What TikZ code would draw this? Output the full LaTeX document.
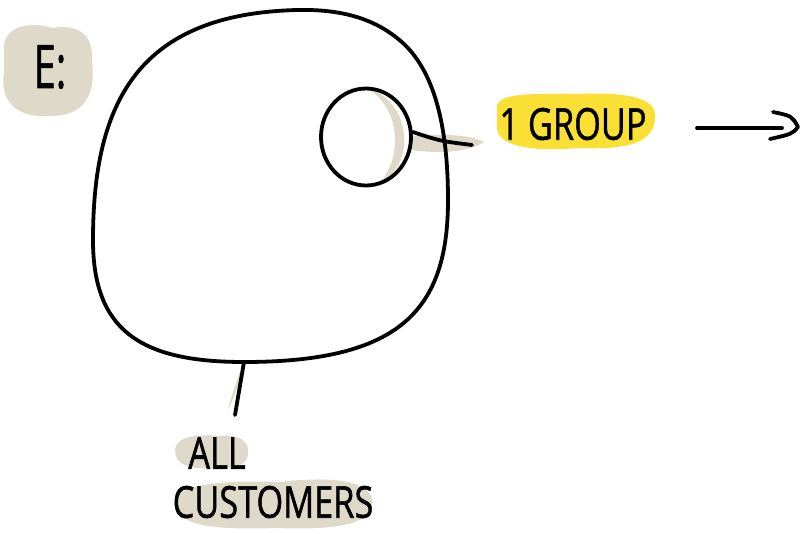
\documentclass[tikz,border=0pt]{standalone}
\usepackage{fontspec}
\setmainfont{Open Sans}
\newfontfamily\handfont[FakeBold=1.2]{Open Sans}
\usetikzlibrary{shapes.geometric,calc}
\definecolor{beige}{RGB}{222,217,201}
\definecolor{hiyel}{RGB}{250,224,52}
\begin{document}
\begin{tikzpicture}[x=1pt,y=-1pt,
  ink/.style={line width=3.8pt, line cap=round, line join=round, draw=black},
  lab/.style={font=\handfont\fontsize{44}{50}\selectfont, inner sep=0pt, anchor=center, xscale=0.78},
  blob/.style={fill=beige}]
\useasboundingbox[fill=white] (0,0) rectangle (808,533);
% background blobs
\fill[blob] (4,50) .. controls (2,28) and (28,20) .. (52,28) .. controls (78,24) and (94,34) .. (92,62)
  .. controls (96,96) and (84,116) .. (50,116) .. controls (14,118) and (0,100) .. (4,72) -- cycle;
\fill[hiyel] (497,110) .. controls (494,92) and (530,94) .. (575,94) .. controls (620,92) and (655,96) .. (655,115)
  .. controls (656,142) and (630,150) .. (580,148) .. controls (530,152) and (498,146) .. (497,128) -- cycle;
\fill[blob] (175,450) .. controls (175,436) and (200,434) .. (220,436) .. controls (240,434) and (250,442) .. (248,454)
  .. controls (248,468) and (225,470) .. (205,468) .. controls (185,469) and (175,462) .. (175,450) -- cycle;
\fill[blob] (176,505) .. controls (172,484) and (220,480) .. (280,482) .. controls (330,476) and (372,480) .. (372,502)
  .. controls (374,526) and (330,530) .. (275,528) .. controls (215,530) and (178,526) .. (176,505) -- cycle;
% shadows
\fill[blob] (370,90) .. controls (405,98) and (422,160) .. (378,185) .. controls (402,160) and (402,112) .. (370,90) -- cycle;
\fill[blob] (410,136) .. controls (440,134) and (470,134) .. (484,142) .. controls (470,152) and (440,154) .. (410,150) -- cycle;
\fill[blob] (240,372) .. controls (236,385) and (230,398) .. (228,410) .. controls (234,398) and (238,385) .. (242,374) -- cycle;
% big circle (all customers)
\draw[ink] (297,10) coordinate (allTop)
  .. controls (340,9) and (372,18) .. (397,38)
  .. controls (432,65) and (448,120) .. (448,200) coordinate (allRight)
  .. controls (448,310) and (400,362) .. (244,362) coordinate (allBottom)
  .. controls (140,362) and (93,330) .. (93,240) coordinate (allLeft)
  .. controls (93,100) and (140,14) .. (297,10) -- cycle;
% small circle (group)
\node[ellipse, draw, ink, minimum width=90pt, minimum height=97pt] (grp) at (366,137) {};
% labels
\node[lab, font=\handfont\fontsize{60}{66}\selectfont, xscale=0.85] (e) at (50,67) {E:};
\node[lab] (g) at (573,124) {1 GROUP};
\node[lab] (a1) at (217,453) {ALL};
\node[lab] (a2) at (273,502) {CUSTOMERS};
% connectors
\coordinate (gStart) at ($(grp.east)+(0,-5)$);
\coordinate (gEnd) at (472,145);
\draw[ink] (gStart) .. controls (440,141) .. (gEnd);
\coordinate (aEnd) at (235,415);
\draw[ink] (allBottom) -- (aEnd);
\coordinate (arS) at (697,128);
\coordinate (arE) at (782,128);
\coordinate (arTip) at (798,127);
\draw[ink] (arS) -- (arE);
\draw[ink] (773,112) .. controls (792,116) .. (arTip) .. controls (792,134) .. (770,139);
\end{tikzpicture}
\end{document}
